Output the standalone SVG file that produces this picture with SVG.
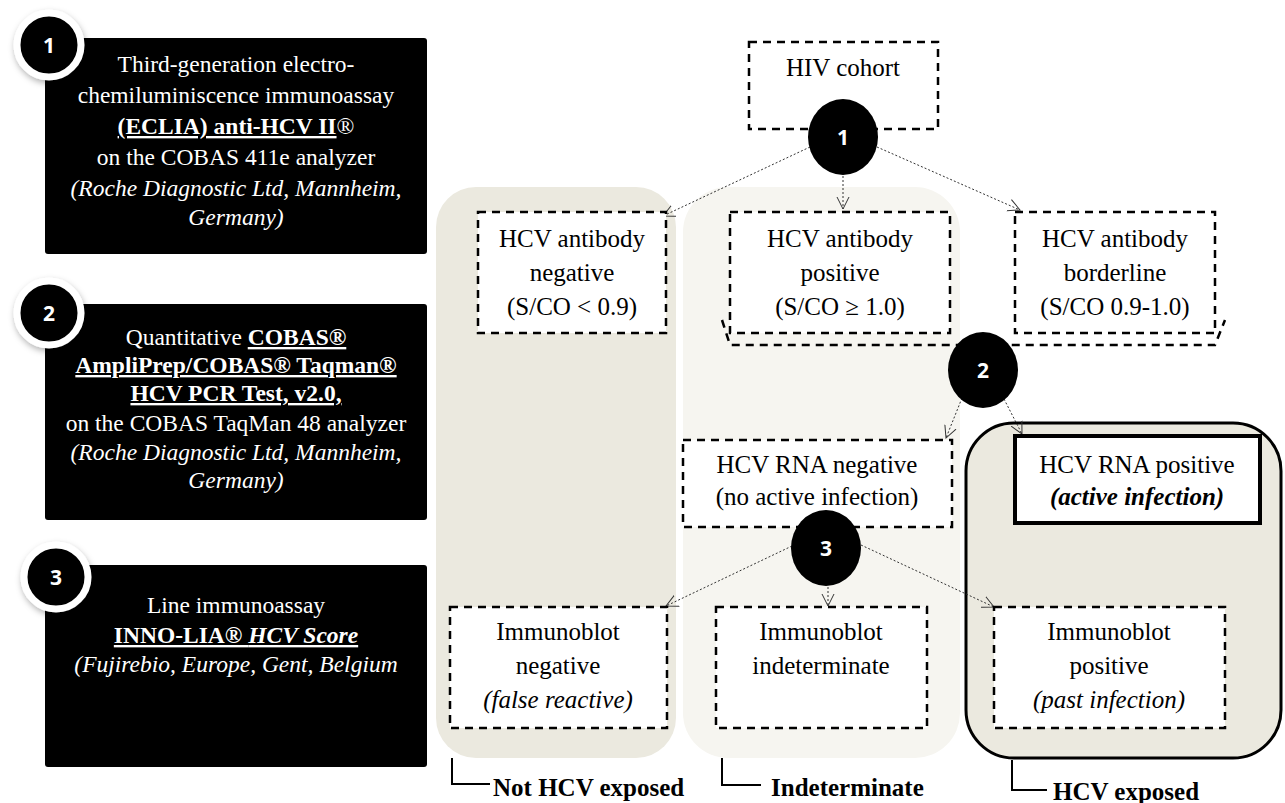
<svg xmlns="http://www.w3.org/2000/svg" width="1285" height="803" viewBox="0 0 1285 803">
<style>
.bk{fill:#000;rx:3}
.wt{fill:#fff;font-family:"Liberation Serif","Times New Roman",serif;font-size:23.5px;text-anchor:middle}
.tx{fill:#000;font-family:"Liberation Serif","Times New Roman",serif;font-size:25px;text-anchor:middle}
.lb{fill:#000;font-family:"Liberation Serif","Times New Roman",serif;font-size:25px;font-weight:bold}
.num{fill:#fff;font-family:"Open Sans","DejaVu Sans",sans-serif;font-size:21px;font-weight:bold;text-anchor:middle}
.dash{fill:#fff;stroke:#000;stroke-width:2.5;stroke-dasharray:8 6}
.u{text-decoration:underline;font-weight:bold}
.it{font-style:italic}
.con{fill:none;stroke:#333;stroke-width:1;stroke-dasharray:2 2}
.ring{fill:#000;stroke:#fff;stroke-width:7}
</style>
<defs>
<marker id="arr" markerUnits="userSpaceOnUse" markerWidth="14" markerHeight="14" refX="12" refY="6" orient="auto" viewBox="0 0 14 12">
<path d="M0,0 L12,6 L0,12" fill="none" stroke="#333" stroke-width="1"/>
</marker>
<filter id="sh" x="-30%" y="-30%" width="160%" height="160%">
<feDropShadow dx="1" dy="3" stdDeviation="3" flood-color="#000" flood-opacity="0.3"/>
</filter>
</defs>
<rect width="1285" height="803" fill="#fff"/>

<!-- background panels -->
<g id="panels">
<rect x="436" y="187" width="240" height="571" rx="40" fill="#ebe9df"/>
<rect x="683" y="187" width="277" height="571" rx="45" fill="#f6f5f0"/>
<rect x="966" y="423" width="315" height="335" rx="48" fill="#ebe9df" stroke="#000" stroke-width="3"/>
</g>

<!-- left method boxes -->
<g id="method1">
<rect x="45" y="38" width="382" height="216" rx="3" fill="#000"/>
<text class="wt" x="236" y="72">Third-generation electro-</text>
<text class="wt" x="236" y="103">chemiluminiscence immunoassay</text>
<text class="wt" x="236" y="134"><tspan class="u">(ECLIA) anti-HCV II</tspan><tspan>®</tspan></text>
<text class="wt" x="236" y="165">on the COBAS 411e analyzer</text>
<text class="wt it" x="236" y="196">(Roche Diagnostic Ltd, Mannheim,</text>
<text class="wt it" x="236" y="225">Germany)</text>
<circle class="ring" cx="49" cy="45" r="32" filter="url(#sh)"/>
<text class="num" x="49" y="53">1</text>
</g>
<g id="method2">
<rect x="45" y="304" width="382" height="216" rx="3" fill="#000"/>
<text class="wt" x="236" y="345"><tspan>Quantitative </tspan><tspan class="u">COBAS®</tspan></text>
<text class="wt" x="236" y="373"><tspan class="u">AmpliPrep/COBAS® Taqman®</tspan></text>
<text class="wt" x="236" y="401"><tspan class="u">HCV PCR Test, v2.0,</tspan></text>
<text class="wt" x="236" y="431">on the COBAS TaqMan 48 analyzer</text>
<text class="wt it" x="236" y="460">(Roche Diagnostic Ltd, Mannheim,</text>
<text class="wt it" x="236" y="488">Germany)</text>
<circle class="ring" cx="49" cy="313" r="32" filter="url(#sh)"/>
<text class="num" x="49" y="321">2</text>
</g>
<g id="method3">
<rect x="45" y="565" width="382" height="202" rx="3" fill="#000"/>
<text class="wt" x="236" y="613">Line immunoassay</text>
<text class="wt" x="236" y="643"><tspan class="u">INNO-LIA® </tspan><tspan class="u it">HCV Score</tspan></text>
<text class="wt it" x="236" y="672">(Fujirebio, Europe, Gent, Belgium</text>
<circle class="ring" cx="56" cy="577" r="32" filter="url(#sh)"/>
<text class="num" x="56" y="585">3</text>
</g>

<!-- connectors -->
<g id="connectors">
<line class="con" x1="810" y1="147" x2="663" y2="216" marker-end="url(#arr)"/>
<line class="con" x1="843" y1="176" x2="843" y2="209" marker-end="url(#arr)"/>
<line class="con" x1="877" y1="147" x2="1020" y2="210" marker-end="url(#arr)"/>
<line class="con" x1="962" y1="398" x2="946" y2="438" marker-end="url(#arr)"/>
<line class="con" x1="1004" y1="399" x2="1022" y2="434" marker-end="url(#arr)"/>
<line class="con" x1="792" y1="546" x2="666" y2="606" marker-end="url(#arr)"/>
<line class="con" x1="828" y1="587" x2="828" y2="606" marker-end="url(#arr)"/>
<line class="con" x1="861" y1="545" x2="994" y2="607" marker-end="url(#arr)"/>
<polyline points="722,320 730,345 1215,345 1225,320" fill="none" stroke="#000" stroke-width="2.5" stroke-dasharray="8 6"/>
</g>

<!-- flow nodes -->
<g id="hiv">
<rect class="dash" x="749" y="42" width="189" height="87"/>
<text class="tx" x="843" y="76">HIV cohort</text>
</g>
<g id="abneg">
<rect class="dash" x="478" y="212" width="188" height="121"/>
<text class="tx" x="572" y="247">HCV antibody</text>
<text class="tx" x="572" y="281">negative</text>
<text class="tx" x="572" y="315">(S/CO &lt; 0.9)</text>
</g>
<g id="abpos">
<rect class="dash" x="730" y="212" width="220" height="121"/>
<text class="tx" x="840" y="247">HCV antibody</text>
<text class="tx" x="840" y="281">positive</text>
<text class="tx" x="840" y="315">(S/CO ≥ 1.0)</text>
</g>
<g id="abborder">
<rect class="dash" x="1015" y="212" width="200" height="121"/>
<text class="tx" x="1115" y="247">HCV antibody</text>
<text class="tx" x="1115" y="281">borderline</text>
<text class="tx" x="1115" y="315">(S/CO 0.9-1.0)</text>
</g>
<g id="rnaneg">
<rect class="dash" x="683" y="440" width="269" height="87"/>
<text class="tx" x="817" y="473">HCV RNA negative</text>
<text class="tx" x="817" y="505">(no active infection)</text>
</g>
<g id="rnapos">
<rect x="1015" y="436" width="245" height="87" fill="#fff" stroke="#000" stroke-width="4"/>
<text class="tx" x="1137" y="473">HCV RNA positive</text>
<text class="tx" x="1137" y="505" font-weight="bold" font-style="italic">(active infection)</text>
</g>
<g id="ibneg">
<rect class="dash" x="450" y="607" width="217" height="121"/>
<text class="tx" x="558" y="640">Immunoblot</text>
<text class="tx" x="558" y="674">negative</text>
<text class="tx it" x="558" y="708">(false reactive)</text>
</g>
<g id="ibind">
<rect class="dash" x="716" y="607" width="211" height="121"/>
<text class="tx" x="821" y="640">Immunoblot</text>
<text class="tx" x="821" y="674">indeterminate</text>
</g>
<g id="ibpos">
<rect class="dash" x="994" y="607" width="231" height="121"/>
<text class="tx" x="1109" y="640">Immunoblot</text>
<text class="tx" x="1109" y="674">positive</text>
<text class="tx it" x="1109" y="708">(past infection)</text>
</g>

<!-- step circles -->
<g id="step1">
<ellipse cx="843" cy="137" rx="35" ry="38" fill="#000"/>
<text class="num" x="843" y="145">1</text>
</g>
<g id="step2">
<ellipse cx="983" cy="370" rx="35" ry="38" fill="#000"/>
<text class="num" x="983" y="378">2</text>
</g>
<g id="step3">
<ellipse cx="826" cy="548" rx="35" ry="38" fill="#000"/>
<text class="num" x="826" y="556">3</text>
</g>

<!-- bottom labels -->
<g id="labels">
<path d="M452,758 V784 H490" fill="none" stroke="#000" stroke-width="2"/>
<text class="lb" x="493" y="796">Not HCV exposed</text>
<path d="M722,758 V785 H761" fill="none" stroke="#000" stroke-width="2"/>
<text class="lb" x="771" y="796">Indeterminate</text>
<path d="M1012,760 V790 H1047" fill="none" stroke="#000" stroke-width="2"/>
<text class="lb" x="1053" y="800">HCV exposed</text>
</g>
</svg>
